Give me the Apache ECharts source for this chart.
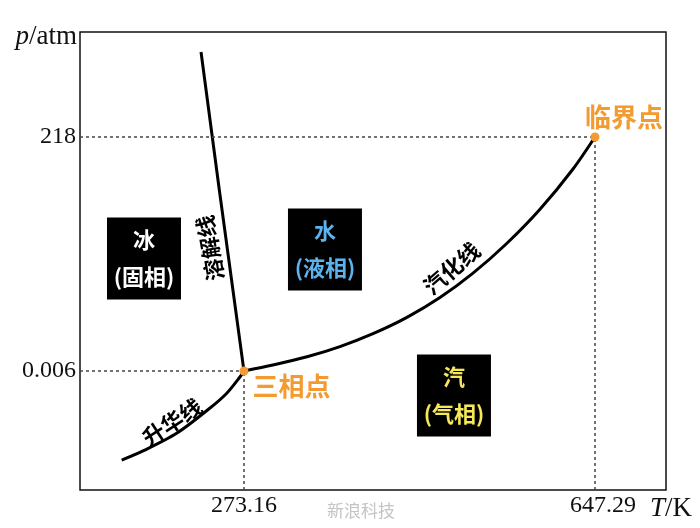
<!DOCTYPE html>
<html><head><meta charset="utf-8">
<script src="https://cdn.jsdelivr.net/npm/echarts@6/dist/echarts.min.js"></script>
<style>html,body{margin:0;padding:0;background:#fff}#c{width:700px;height:528px}</style>
</head><body><div id="c"></div>
<script>
// Axis extents (schematic: T linear in K, p logarithmic in atm)
const xRange = [98.4, 723];
const yRange = [2.876e-5, 24246];
// Tick labels
const xTicks = [273.16, 647.29];
const yTicks = [0.006, 218];
// Special points
const tripleT = 273.16, tripleP = 0.006;
const criticalT = 647.29, criticalP = 218;
// Melting curve (溶解线)
const meltT = [227.4, 246.9, 273.16];
const meltP = [9890, 20.2, 0.006];
// Sublimation curve (升华线)
const sublT = [142.8, 165.6, 201.8, 237.0, 255.1, 268.9, 273.16];
const sublP = [0.00011, 0.000166, 0.000371, 0.00114, 0.00224, 0.00459, 0.006];
// Vaporization curve (汽化线)
const vapT = [273.16, 304.1, 340.4, 375.5, 410.7, 446.9, 482.1, 517.3, 553.5, 588.7, 623.9, 647.29];
const vapP = [0.006, 0.00786, 0.01135, 0.01794, 0.0320, 0.0665, 0.1617, 0.483, 1.85, 8.50, 51.9, 218];
// Phase boxes
const phaseNames = ['冰', '水', '汽'];
const phaseSub = ['(固相)', '(液相)', '(气相)'];
const phaseT = [166.6, 359.5, 497.0];
const phaseP = [0.935, 1.40, 0.0020];
const phaseColors = ['#ffffff', '#5cb3ee', '#f6e85a'];
// Curve names
const curveNames = ['溶解线', '升华线', '汽化线'];
const curveLabelT = [237.0, 196.5, 494.6];
const curveLabelP = [1.497, 0.000609, 0.602];
const curveLabelAngle = [100, 33, 41];

const zip = (a, b) => a.map((v, i) => [v, b[i]]);
const ORANGE = '#f39a30';
const SERIF = '"Liberation Serif","Times New Roman",serif';
const CJK = '"Noto Sans CJK SC","Noto Sans",sans-serif';

const chart = echarts.init(document.getElementById('c'), null, {renderer: 'canvas'});
const guideLabel = {show: true, position: 'start', color: '#111', fontFamily: SERIF, fontSize: 24, distance: 4};

chart.setOption({
  animation: false,
  backgroundColor: '#fff',
  grid: {left: 80, right: 34, top: 32, bottom: 38, show: true, borderColor: '#111', borderWidth: 1.5, backgroundColor: 'transparent'},
  xAxis: {
    type: 'value', min: xRange[0], max: xRange[1],
    axisLine: {show: false}, axisTick: {show: false}, axisLabel: {show: false}, splitLine: {show: false},
    name: '{i|T}/K', nameLocation: 'end', nameGap: -16,
    nameTextStyle: {color: '#111', fontFamily: SERIF, fontSize: 27, align: 'left', verticalAlign: 'top', padding: [5, 0, 0, 0],
      rich: {i: {fontStyle: 'italic', fontFamily: SERIF, fontSize: 27, color: '#111'}}}
  },
  yAxis: {
    type: 'log', min: yRange[0], max: yRange[1],
    axisLine: {show: false}, axisTick: {show: false}, axisLabel: {show: false}, splitLine: {show: false},
    name: '{i|p}/atm', nameLocation: 'end', nameGap: 0,
    nameTextStyle: {color: '#111', fontFamily: SERIF, fontSize: 27, align: 'right', verticalAlign: 'middle', padding: [10, 3, 0, 0],
      rich: {i: {fontStyle: 'italic', fontFamily: SERIF, fontSize: 27, color: '#111'}}}
  },
  graphic: [{
    type: 'text', left: 327, top: 502,
    style: {text: '新浪科技', fill: '#c4c4c4', font: '17px "Noto Sans CJK SC"'}
  }],
  series: [
    {
      name: 'guides', type: 'scatter', data: [], silent: true,
      markLine: {
        silent: true, symbol: ['none', 'none'], animation: false,
        lineStyle: {color: '#444', width: 1.5, type: [3, 3]},
        data: [
          [{coord: [xRange[0], yTicks[1]], label: Object.assign({}, guideLabel, {formatter: String(yTicks[1])})}, {coord: [criticalT, criticalP]}],
          [{coord: [xRange[0], yTicks[0]], label: Object.assign({}, guideLabel, {formatter: String(yTicks[0])})}, {coord: [tripleT, tripleP]}],
          [{coord: [xTicks[0], yRange[0]], label: Object.assign({}, guideLabel, {formatter: xTicks[0].toFixed(2)})}, {coord: [tripleT, tripleP]}],
          [{coord: [xTicks[1], yRange[0]], label: Object.assign({}, guideLabel, {formatter: xTicks[1].toFixed(2), padding: [0, 0, 0, 16]})}, {coord: [criticalT, criticalP]}]
        ]
      }
    },
    {name: '溶解线', type: 'line', data: zip(meltT, meltP), showSymbol: false, smooth: false, lineStyle: {color: '#000', width: 3}, z: 3},
    {name: '升华线', type: 'line', data: zip(sublT, sublP), showSymbol: false, smooth: 0.3, lineStyle: {color: '#000', width: 3}, z: 3},
    {name: '汽化线', type: 'line', data: zip(vapT, vapP), showSymbol: false, smooth: 0.3, lineStyle: {color: '#000', width: 3}, z: 3},
    {
      name: 'phases', type: 'scatter', symbol: 'rect', symbolSize: [74, 82], z: 4,
      itemStyle: {color: '#000', opacity: 1},
      data: phaseT.map((t, i) => ({
        value: [t, phaseP[i]],
        label: {
          show: true, position: 'inside',
          formatter: '{a|' + phaseNames[i] + '}\n{a|' + phaseSub[i] + '}',
          rich: {a: {color: phaseColors[i], fontFamily: CJK, fontSize: 22, lineHeight: 37, fontWeight: 'bold'}}
        }
      }))
    },
    {
      name: 'curve names', type: 'scatter', symbolSize: 0, z: 5, silent: true,
      itemStyle: {opacity: 1},
      data: curveLabelT.map((t, i) => ({
        value: [t, curveLabelP[i]],
        label: {show: true, position: 'inside', formatter: curveNames[i], rotate: curveLabelAngle[i],
          color: '#000', fontFamily: CJK, fontSize: 22, fontWeight: 'bold'}
      }))
    },
    {
      name: 'points', type: 'scatter', symbolSize: 9, z: 6, itemStyle: {color: ORANGE, opacity: 1},
      data: [
        {value: [tripleT, tripleP], label: {show: true, position: 'right', distance: 4, offset: [0, 15], formatter: '三相点', color: ORANGE, fontFamily: CJK, fontSize: 26, fontWeight: 'bold'}},
        {value: [criticalT, criticalP], label: {show: true, position: 'top', distance: 4, offset: [29, 2], formatter: '临界点', color: ORANGE, fontFamily: CJK, fontSize: 26, fontWeight: 'bold'}}
      ]
    }
  ]
});
</script></body></html>
